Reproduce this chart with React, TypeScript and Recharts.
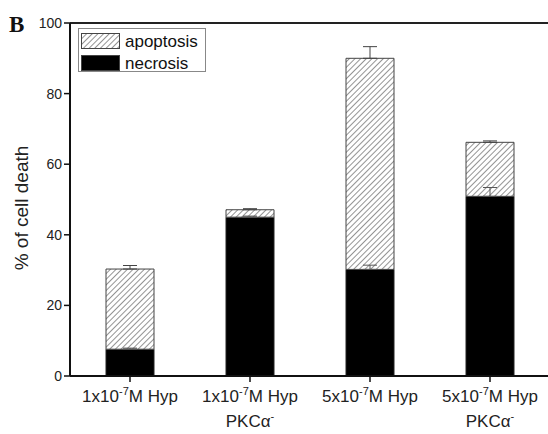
import { Bar, BarChart, ErrorBar, ReferenceLine, XAxis, YAxis } from 'recharts';

// category names; ^{..} marks a superscript, \n a second line
const categories = ['1x10^{-7}M Hyp', '1x10^{-7}M Hyp\nPKCα^{-}', '5x10^{-7}M Hyp', '5x10^{-7}M Hyp\nPKCα^{-}'];
const necrosis = [7.6, 45.0, 30.2, 50.9];
const apoptosis = [22.7, 2.1, 59.8, 15.3];
const necrosisErr = [0.3, 0.3, 1.2, 2.5];
const apoptosisErr = [1.0, 0.3, 3.3, 0.4];
const yTicks = [0, 20, 40, 60, 80, 100];

const data = categories.map((name, i) => ({
  name,
  necrosis: necrosis[i],
  apoptosis: apoptosis[i],
  necErr: [0, necrosisErr[i]],
  apoErr: [0, apoptosisErr[i]],
}));

const FONT = 'Arial, "Liberation Sans", Helvetica, sans-serif';

function withSup(line: string) {
  const parts = line.split(/(\^\{[^}]*\})/).filter(Boolean);
  return parts.map((p, i) => {
    if (p.startsWith('^{')) {
      return (
        <tspan key={i} fontSize={11} dy={-7}>
          {p.slice(2, -1)}
        </tspan>
      );
    }
    // undo the superscript shift for the piece that follows one
    const prevSup = i > 0 && parts[i - 1].startsWith('^{');
    return (
      <tspan key={i} dy={prevSup ? 7 : 0}>
        {p}
      </tspan>
    );
  });
}

function XTick({ x, y, payload }: { x?: number; y?: number; payload?: { value?: string } }) {
  const lines = (payload?.value ?? '').split('\n');
  return (
    <g>
      {lines.map((l, i) => (
        <text key={i} x={x} y={(y ?? 0) + 18 + i * 25} textAnchor="middle" fontSize={17} fontFamily={FONT} fill="#222">
          {withSup(l)}
        </text>
      ))}
    </g>
  );
}

// legend drawn as a plain overlay so it does not eat plot space
function LegendBox() {
  const items = [
    { label: 'apoptosis', fill: 'url(#hatch)' },
    { label: 'necrosis', fill: '#000' },
  ];
  return (
    <div
      style={{
        position: 'absolute',
        left: 78,
        top: 28,
        border: '1px solid #888',
        width: 128,
        height: 44,
        padding: '2px 0 0 2px',
        boxSizing: 'border-box',
        background: '#fff',
      }}
    >
      {items.map((it) => (
        <div key={it.label} style={{ display: 'flex', alignItems: 'center', height: 21, marginBottom: 1 }}>
          <svg width={40} height={17} style={{ display: 'block' }}>
            <rect x={0.5} y={0.5} width={38} height={15} fill={it.fill} stroke="#444" strokeWidth={1} />
          </svg>
          <span style={{ fontFamily: FONT, fontSize: 17, color: '#111', marginLeft: 4, lineHeight: '17px' }}>{it.label}</span>
        </div>
      ))}
    </div>
  );
}

export default function App() {
  return (
    <div style={{ position: 'absolute', left: 0, top: 0, width: 548, height: 434, overflow: 'hidden', background: '#fff' }}>
      <svg width={0} height={0} style={{ position: 'absolute' }}>
        <defs>
          <pattern id="hatch" patternUnits="userSpaceOnUse" width={4} height={4} patternTransform="rotate(45)">
            <rect width={4} height={4} fill="#fff" />
            <line x1={0} y1={0} x2={0} y2={4} stroke="#666" strokeWidth={1.4} />
          </pattern>
        </defs>
      </svg>
      <BarChart
        width={560}
        height={434}
        data={data}
        margin={{ top: 23, right: 10, bottom: 28, left: 0 }}
        barCategoryGap="30%"
      >
        <XAxis
          dataKey="name"
          height={30}
          tick={<XTick />}
          tickSize={6}
          interval={0}
          axisLine={{ stroke: '#111', strokeWidth: 2 }}
          tickLine={{ stroke: '#111', strokeWidth: 1.5 }}
        />
        <YAxis
          type="number"
          domain={[0, 100]}
          ticks={yTicks}
          width={70}
          tickSize={6}
          axisLine={{ stroke: '#111', strokeWidth: 2 }}
          tickLine={{ stroke: '#111', strokeWidth: 1.5 }}
          tick={{ fontSize: 14, fontFamily: FONT, fill: '#222' }}
          label={{
            content: () => (
              <text x={28} y={208} transform="rotate(-90 28 208)" textAnchor="middle" fontSize={19} fontFamily={FONT} fill="#222">
                % of cell death
              </text>
            ),
          }}
        />
        <ReferenceLine y={100} stroke="#222" strokeWidth={2} />
        <Bar dataKey="necrosis" stackId="s" fill="#000" stroke="#222" strokeWidth={1} isAnimationActive={false}>
          <ErrorBar dataKey="necErr" direction="y" width={7} stroke="#555" strokeWidth={1} />
        </Bar>
        <Bar dataKey="apoptosis" stackId="s" fill="url(#hatch)" stroke="#444" strokeWidth={1} isAnimationActive={false}>
          <ErrorBar dataKey="apoErr" direction="y" width={7} stroke="#444" strokeWidth={1} />
        </Bar>
      </BarChart>
      <LegendBox />
      <svg width={40} height={40} style={{ position: 'absolute', left: 0, top: 0 }}>
        <text x={9} y={32} fontFamily='"Liberation Serif", "Times New Roman", serif' fontWeight="bold" fontSize={23} fill="#111">
          B
        </text>
      </svg>
    </div>
  );
}
